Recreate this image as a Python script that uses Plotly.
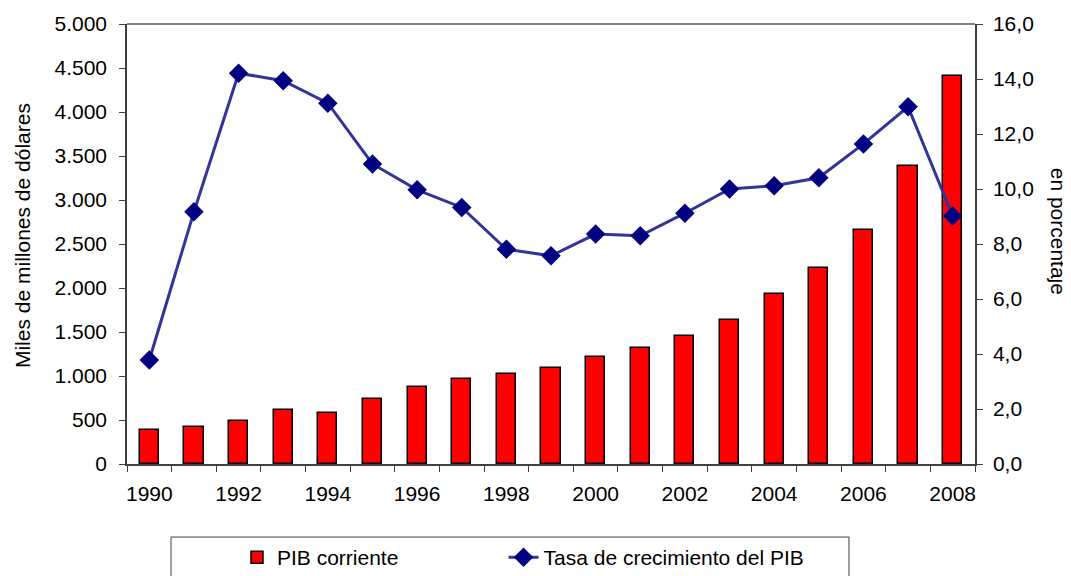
import plotly.graph_objects as go

years = list(range(1990, 2009))
pib_corriente = [390, 417, 485, 617, 576, 735, 871, 962, 1026, 1094, 1212, 1322,
                 1458, 1640, 1935, 2231, 2663, 3390, 4409]
tasa_crecimiento = [3.78, 9.17, 14.21, 13.94, 13.12, 10.91, 9.97, 9.33, 7.81, 7.57,
                    8.36, 8.30, 9.12, 10.0, 10.12, 10.41, 11.64, 12.99, 9.02]
x_tick_years = list(range(1990, 2009, 2))
left_ticks = list(range(0, 5001, 500))
right_ticks = [0, 2, 4, 6, 8, 10, 12, 14, 16]

FONT = "Liberation Sans, Arial, sans-serif"
FS = 21

fig = go.Figure()
fig.add_trace(go.Bar(
    x=years, y=pib_corriente, name="PIB corriente",
    marker=dict(color="#FF0000", line=dict(color="#000000", width=1.5)),
    width=0.43, yaxis="y", legend="legend",
))
fig.add_trace(go.Scatter(
    x=years, y=tasa_crecimiento, name="Tasa de crecimiento del PIB",
    mode="lines+markers",
    line=dict(color="#333399", width=3),
    marker=dict(symbol="diamond", size=15, color="#000080"),
    yaxis="y2", legend="legend2",
))

legend_common = dict(
    orientation="h", yanchor="top", xanchor="left",
    font=dict(family=FONT, size=FS, color="#000000"),
    bgcolor="rgba(0,0,0,0)", borderwidth=0,
)

fig.update_layout(
    width=1071, height=576,
    margin=dict(l=119, r=104, t=16, b=120, autoexpand=False),
    paper_bgcolor="white", plot_bgcolor="white",
    separators=",.",
    font=dict(family=FONT, size=FS, color="#000000"),
    showlegend=True,
    legend=dict(x=0.1297, y=-0.166, **legend_common),
    legend2=dict(x=0.444, y=-0.166, **legend_common),
    xaxis=dict(
        range=[1989.5, 2008.5], tickmode="array", tickvals=x_tick_years,
        ticktext=[str(y) for y in x_tick_years],
        showgrid=False, zeroline=False,
        showline=True, linecolor="#404040", linewidth=1.5,
        ticks="outside", ticklen=0, tickcolor="#404040",
        ticklabelstandoff=10,
        minor=dict(tickmode="linear", tick0=1989.5, dtick=1, ticks="outside",
                   ticklen=6, tickcolor="#404040", tickwidth=1, showgrid=False),
        tickfont=dict(size=FS),
    ),
    yaxis=dict(
        range=[0, 5000], tickmode="array", tickvals=left_ticks,
        tickformat=",d",
        showgrid=False, zeroline=False,
        showline=True, linecolor="#404040", linewidth=1.5,
        ticks="outside", ticklen=6, tickcolor="#404040",
        ticklabelstandoff=8,
        tickfont=dict(size=FS),
    ),
    yaxis2=dict(
        range=[0, 16], tickmode="array", tickvals=right_ticks,
        tickformat=".1f", overlaying="y", side="right",
        showgrid=False, zeroline=False,
        showline=True, linecolor="#404040", linewidth=1.5,
        ticks="outside", ticklen=6, tickcolor="#404040",
        ticklabelstandoff=6,
        tickfont=dict(size=FS),
    ),
    bargap=0,
)

# top border of plot area
fig.add_shape(type="line", xref="paper", yref="paper", x0=0, x1=1, y0=1, y1=1,
              line=dict(color="#808080", width=2))
# legend frame
fig.add_shape(type="rect", xref="paper", yref="paper",
              x0=0.0519, x1=0.8514, y0=-0.166, y1=-0.40,
              line=dict(color="#404040", width=1), fillcolor="rgba(0,0,0,0)")

fig.add_annotation(text="Miles de millones de dólares", xref="paper", yref="paper",
                   x=-0.124, y=0.52, xanchor="center", yanchor="middle",
                   textangle=-90, showarrow=False,
                   font=dict(family=FONT, size=FS, color="#000000"))
fig.add_annotation(text="en porcentaje", xref="paper", yref="paper",
                   x=1.098, y=0.53, xanchor="center", yanchor="middle",
                   textangle=90, showarrow=False,
                   font=dict(family=FONT, size=FS, color="#000000"))

fig.write_html("out.html")
